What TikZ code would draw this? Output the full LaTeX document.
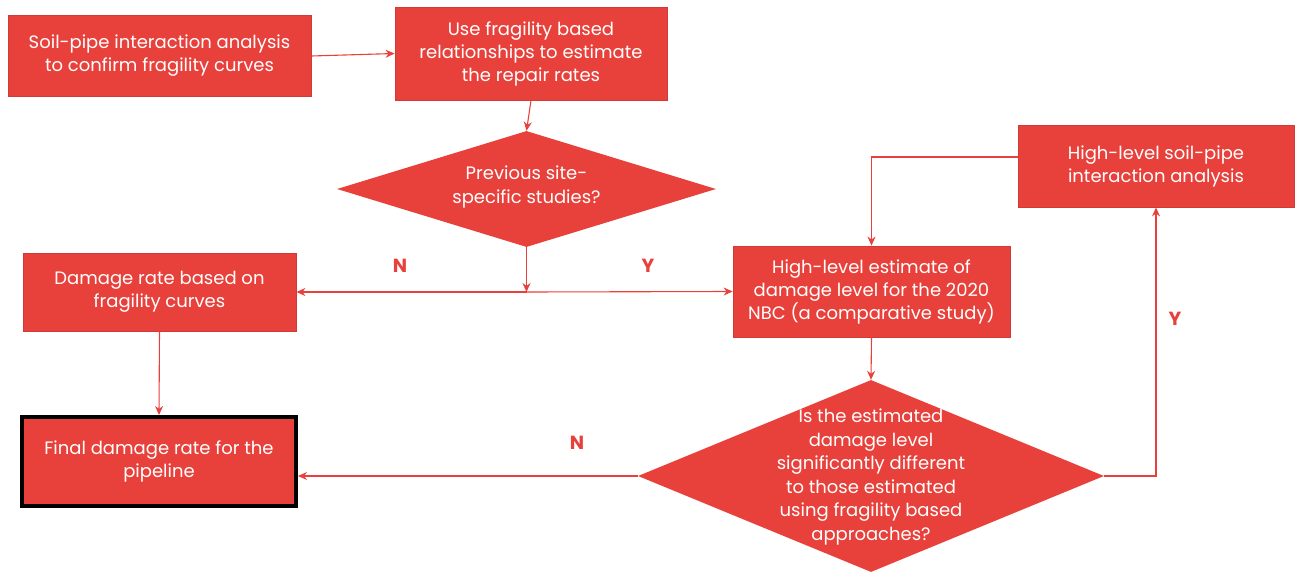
\documentclass[tikz,border=0pt]{standalone}
\usepackage{fontspec}
\setmainfont{Poppins}
\usetikzlibrary{shapes.geometric,arrows.meta}
\definecolor{fr}{RGB}{232,65,60}
\tikzset{
  box/.style={fill=fr,draw=fr!90!black,line width=0.8pt,inner sep=0pt,align=center,text=white,
    font=\fontsize{18}{23}\selectfont},
  dia/.style={shape=diamond,fill=fr,draw=none,inner sep=0pt},
  dtext/.style={text=white,align=center,font=\fontsize{18}{23.5}\selectfont},
  conn/.style={draw=fr,line width=1.1pt,-{Stealth[length=9pt,width=8pt]}},
  yn/.style={text=fr,font=\bfseries\fontsize{19}{21}\selectfont}
}
\begin{document}
\begin{tikzpicture}[x=1pt,y=-1pt]
\useasboundingbox (0,0) rectangle (1298,575);
\node[box,minimum width=303,minimum height=81] (A) at (159.5,56) {Soil-pipe interaction analysis\\to confirm fragility curves};
\node[box,minimum width=272,minimum height=93] (B) at (531,53.5) {Use fragility based\\relationships to estimate\\the repair rates};
\node[dia,minimum width=379,minimum height=116] (D1) at (526.5,189) {};
\node[dtext] (D1t) at (526.5,187) {Previous site-\\specific studies?};
\node[box,minimum width=273,minimum height=78] (C) at (159.5,292) {Damage rate based on\\fragility curves};
\node[box,draw=black,line width=4pt,minimum width=274,minimum height=89] (D) at (159,461.5) {Final damage rate for the\\pipeline};
\node[box,minimum width=277,minimum height=91] (E) at (871.5,291.5) {High-level estimate of\\damage level for the 2020\\NBC (a comparative study)};
\node[box,minimum width=276,minimum height=82] (F) at (1156,166) {High-level soil-pipe\\interaction analysis};
\node[dia,minimum width=466,minimum height=192] (D2) at (871,476) {};
\node[dtext] (D2t) at (871,477) {Is the estimated\\damage level\\significantly different\\to those estimated\\using fragility based\\approaches?};
\coordinate (J) at (D1.south |- C.east);
\draw[conn] (A.east) -- (B.west);
\draw[conn] (B.south) -- (D1.north);
\draw[conn] (D1.south) -- (J);
\draw[conn] (J) -- (C.east);
\draw[conn] (J) -- (E.west);
\draw[conn] (C.south) -- (D.north);
\draw[conn] ([yshift=9pt]F.west) -| (E.north);
\draw[conn] (E.south) -- (D2.north);
\draw[conn] (D2.east) -| (F.south);
\draw[conn] (D2.west) -- (D.east |- D2.west);
\node[yn] (N1) at (400,266) {N};
\node[yn] (Y1) at (648,266) {Y};
\node[yn] (N2) at (577,443) {N};
\node[yn] (Y2) at (1175,319) {Y};
\end{tikzpicture}
\end{document}
